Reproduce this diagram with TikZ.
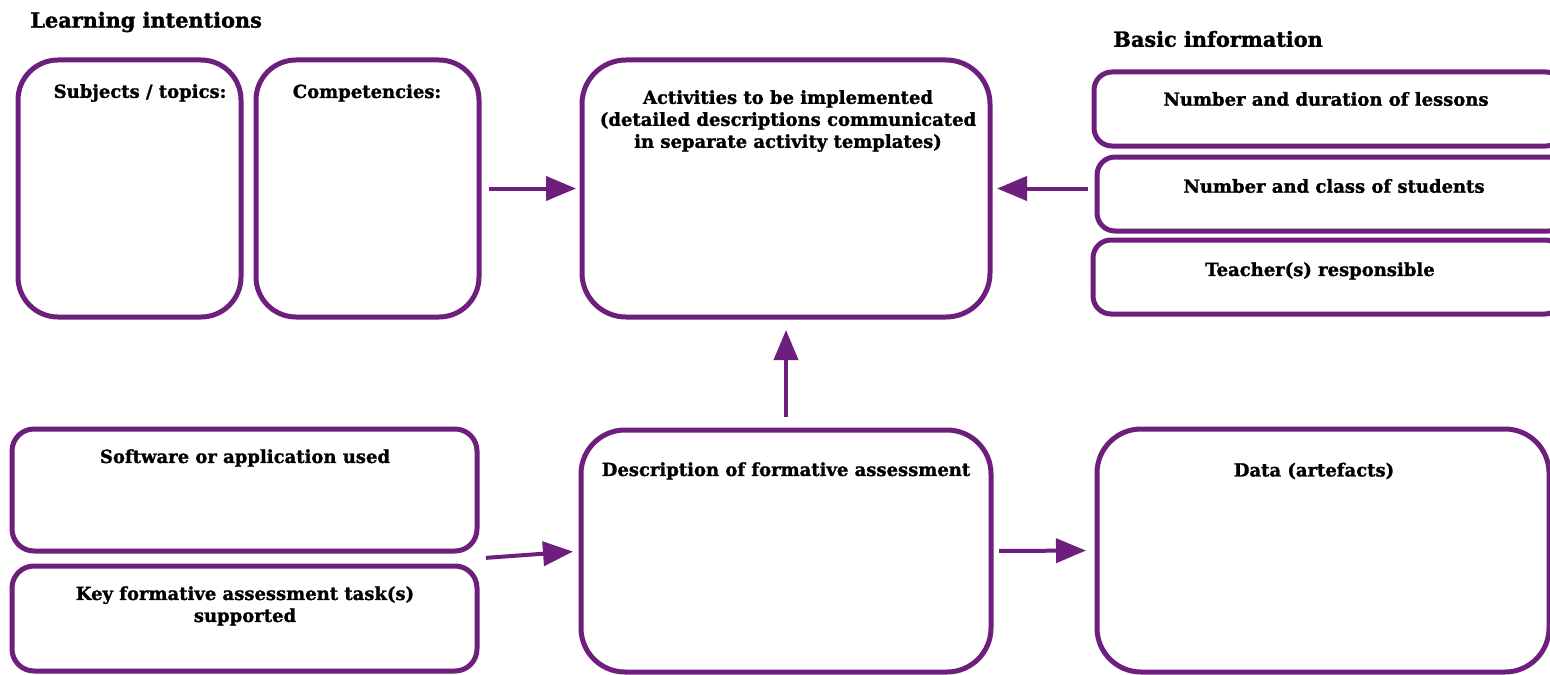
\documentclass[tikz,border=0pt]{standalone}
\usepackage{fontspec}
\setmainfont{DejaVu Serif}[BoldFeatures={FakeBold=1.4}]
\usetikzlibrary{arrows.meta,positioning,calc}
\definecolor{framecol}{RGB}{110,30,124}
\tikzset{
  box/.style={draw=framecol, line width=2.5pt, rounded corners=20pt, anchor=north west, inner sep=0pt, outer sep=0pt},
  slim/.style={box, rounded corners=9pt},
  title/.style={font=\bfseries\fontsize{9}{11}\selectfont, align=center, inner sep=0pt, yshift=-1pt},
  head/.style={font=\bfseries\fontsize{10.4}{12.5}\selectfont, anchor=west, inner sep=0pt},
  link/.style={draw=framecol, line width=2pt, -{Triangle[length=15pt,width=12pt]}},
}
\begin{document}
\begin{tikzpicture}[x=0.5pt,y=-0.5pt]
\clip (0,0) rectangle (1550,674);
\fill[white] (0,0) rectangle (1550,674);
%% headings
\node[head] (learnH) at (30,22) {Learning intentions};
\node[head] (basicH) at (1113,39) {Basic information};
%% boxes
  % Node: subj
\node[box, minimum width=111.5pt, minimum height=128.5pt] (subj) at (18,60) {};
\node[title] (subjT) at (140,91) {Subjects / topics:};
  % Node: comp
\node[box, minimum width=111.5pt, minimum height=128.5pt] (comp) at (256,60) {};
\node[title] (compT) at (367,91) {Competencies:};
  % Node: act
\node[box, rounded corners=22pt, minimum width=204pt, minimum height=128.5pt] (act) at (582,60) {};
\node[title] (actT) at (788,119) {Activities to be implemented\\(detailed descriptions communicated\\in separate activity templates)};
  % Node: dur
\node[slim, minimum width=235pt, minimum height=37pt] (dur) at (1094,72) {};
\node[title] (durT) at (1326,97) {Number and duration of lessons};
  % Node: cls
\node[slim, minimum width=235pt, minimum height=37pt] (cls) at (1097,157) {};
\node[title] (clsT) at (1334,184) {Number and class of students};
  % Node: teach
\node[slim, minimum width=235pt, minimum height=37pt] (teach) at (1093,240) {};
\node[title] (teachT) at (1320,269) {Teacher(s) responsible};
  % Node: sw
\node[box, rounded corners=11pt, minimum width=232.5pt, minimum height=61pt] (sw) at (12,429) {};
\node[title] (swT) at (245,456) {Software or application used};
  % Node: key
\node[box, rounded corners=11pt, minimum width=232.5pt, minimum height=52.5pt] (key) at (12,566) {};
\node[title] (keyT) at (245,604) {Key formative assessment task(s)\\supported};
  % Node: desc
\node[box, rounded corners=22pt, minimum width=205pt, minimum height=121pt] (desc) at (581,430) {};
\node[title] (descT) at (786,469) {Description of formative assessment};
  % Node: data
\node[box, rounded corners=22pt, minimum width=226pt, minimum height=121.5pt] (data) at (1097,429) {};
\node[title] (dataT) at (1314,469) {Data (artefacts)};
%% arrows
\coordinate (tools) at ($(sw.south east)!.5!(key.north east)$);
  % Edge: comp -> act
\draw[link, shorten <=5pt, shorten >=3pt] (comp) -- (act);
  % Edge: cls -> act
\draw[link, shorten <=4.5pt, shorten >=3.5pt] (cls.west |- act.east) -- (act.east);
  % Edge: desc -> act
\draw[link, shorten <=6.5pt, shorten >=6.5pt] (desc.north) -- (act.south);
  % Edge: tools -> desc
\draw[link, shorten <=4.5pt, shorten >=4pt] (tools) -- (desc.west);
  % Edge: desc -> data
\draw[link, shorten <=4pt, shorten >=5.5pt] (desc.east) -- (data.west);
\end{tikzpicture}
\end{document}
